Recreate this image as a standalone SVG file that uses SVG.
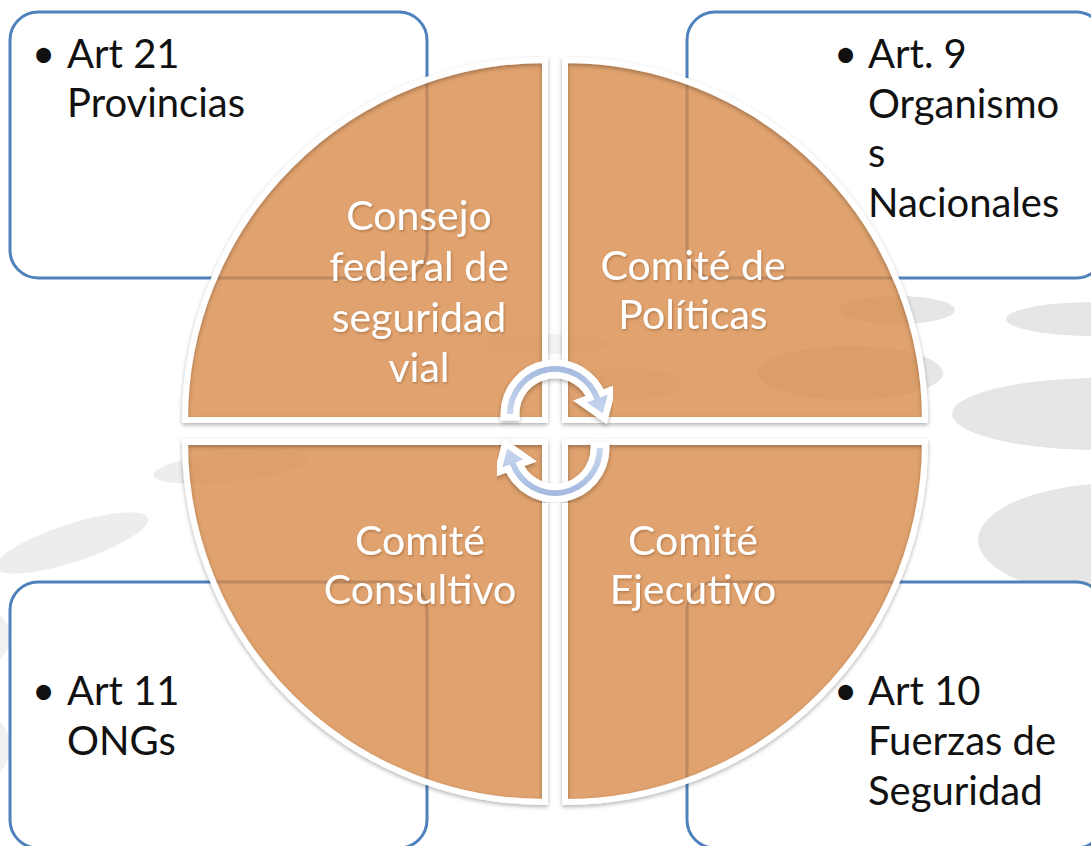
<svg xmlns="http://www.w3.org/2000/svg" width="1091" height="846" viewBox="0 0 1091 846">
<defs>
<style>
.bg{fill:#e6e6e6}
.box{fill:#ffffff;stroke:#4f81bd;stroke-width:3}
.q{fill:#d88b4a;fill-opacity:0.8}
.qs{fill:none;stroke:#ffffff;stroke-width:6;stroke-linejoin:miter}
.bt{font-family:Lato,"Open Sans",sans-serif;font-size:40px;fill:#111111}
.ct{font-family:Lato,"Open Sans",sans-serif;font-size:41px;fill:#ffffff;text-anchor:middle}
.arr{fill:url(#ag);stroke:#ffffff;stroke-width:13;stroke-linejoin:miter;paint-order:stroke}
</style>
<filter id="sh" x="-5%" y="-5%" width="110%" height="110%">
<feDropShadow dx="0" dy="2" stdDeviation="2" flood-color="#000" flood-opacity="0.3"/>
</filter>
<filter id="ts" x="-10%" y="-10%" width="120%" height="130%">
<feDropShadow dx="1" dy="1.5" stdDeviation="1.2" flood-color="#7a4a20" flood-opacity="0.45"/>
</filter>
<linearGradient id="ag" x1="0" y1="0" x2="0" y2="1">
<stop offset="0" stop-color="#a3b9de"/>
<stop offset="1" stop-color="#c9d7ee"/>
</linearGradient>
</defs>
<rect width="1091" height="846" fill="#ffffff"/>
<g id="background">
<ellipse class="bg" cx="1095" cy="319" rx="89" ry="17"/>
<ellipse class="bg" cx="1100" cy="414" rx="148" ry="36"/>
<ellipse class="bg" cx="1120" cy="540" rx="142" ry="57"/>
<ellipse class="bg" cx="897" cy="310" rx="58" ry="14"/>
<ellipse class="bg" cx="850" cy="373" rx="93" ry="27"/>
<ellipse class="bg" cx="625" cy="384" rx="58" ry="16" fill-opacity="0.6"/>
<ellipse class="bg" cx="545" cy="344" rx="65" ry="10" fill-opacity="0.5"/>
<ellipse class="bg" cx="72" cy="543" rx="80" ry="19" transform="rotate(-18 72 543)" fill-opacity="0.7"/>
<ellipse class="bg" cx="230" cy="467" rx="77" ry="15" transform="rotate(-6 230 467)" fill-opacity="0.7"/>
<ellipse class="bg" cx="-20" cy="637" rx="30" ry="30" fill-opacity="0.6"/>
<ellipse class="bg" cx="-20" cy="747" rx="30" ry="34" fill-opacity="0.6"/>
</g>
<g id="box-tl"><rect class="box" x="10" y="12" width="417" height="266" rx="28"/>
<text class="bt" x="32" y="68">•</text><text class="bt" x="67" y="68">Art 21</text><text class="bt" x="67" y="117">Provincias</text></g>
<g id="box-tr"><rect class="box" x="687" y="12" width="417" height="266" rx="28"/>
<text class="bt" x="834" y="68">•</text><text class="bt" x="868" y="68">Art. 9</text><text class="bt" x="868" y="118">Organismo</text><text class="bt" x="868" y="167">s</text><text class="bt" x="868" y="217">Nacionales</text></g>
<g id="box-bl"><rect class="box" x="10" y="582" width="417" height="266" rx="28"/>
<text class="bt" x="32" y="705">•</text><text class="bt" x="67" y="705">Art 11</text><text class="bt" x="67" y="755">ONGs</text></g>
<g id="box-br"><rect class="box" x="687" y="582" width="417" height="266" rx="28"/>
<text class="bt" x="834" y="705">•</text><text class="bt" x="868" y="705">Art 10</text><text class="bt" x="868" y="755">Fuerzas de</text><text class="bt" x="868" y="805">Seguridad</text></g>
<g id="q-consejo">
<path class="q" d="M545,420 L185,420 A360,360 0 0 1 545,60 Z"/>
<path class="qs" filter="url(#sh)" d="M545,420 L185,420 A360,360 0 0 1 545,60 Z"/>
<g class="ct" filter="url(#ts)"><text x="419" y="230">Consejo</text><text x="419" y="281">federal de</text><text x="419" y="332">seguridad</text><text x="419" y="382">vial</text></g>
</g>
<g id="q-politicas">
<path class="q" d="M565,420 L565,60 A360,360 0 0 1 925,420 Z"/>
<path class="qs" filter="url(#sh)" d="M565,420 L565,60 A360,360 0 0 1 925,420 Z"/>
<g class="ct" filter="url(#ts)"><text x="693" y="280">Comité de</text><text x="693" y="329">Políticas</text></g>
</g>
<g id="q-consultivo">
<path class="q" d="M545,442 L545,802 A360,360 0 0 1 185,442 Z"/>
<path class="qs" filter="url(#sh)" d="M545,442 L545,802 A360,360 0 0 1 185,442 Z"/>
<g class="ct" filter="url(#ts)"><text x="420" y="555">Comité</text><text x="420" y="604">Consultivo</text></g>
</g>
<g id="q-ejecutivo">
<path class="q" d="M565,442 L925,442 A360,360 0 0 1 565,802 Z"/>
<path class="qs" filter="url(#sh)" d="M565,442 L925,442 A360,360 0 0 1 565,802 Z"/>
<g class="ct" filter="url(#ts)"><text x="693" y="555">Comité</text><text x="693" y="604">Ejecutivo</text></g>
</g>
<g id="connectors" filter="url(#sh)">
<path class="arr" d="M507,414 A48,48 0 0 1 600.1,397.6 L607.6,394.8 L602.8,413.6 L586.9,402.4 L594.5,399.6 A42,42 0 0 0 513,414 Z"/>
<path class="arr" transform="rotate(180 555 431)" d="M507,414 A48,48 0 0 1 600.1,397.6 L607.6,394.8 L602.8,413.6 L586.9,402.4 L594.5,399.6 A42,42 0 0 0 513,414 Z"/>
</g>
</svg>
